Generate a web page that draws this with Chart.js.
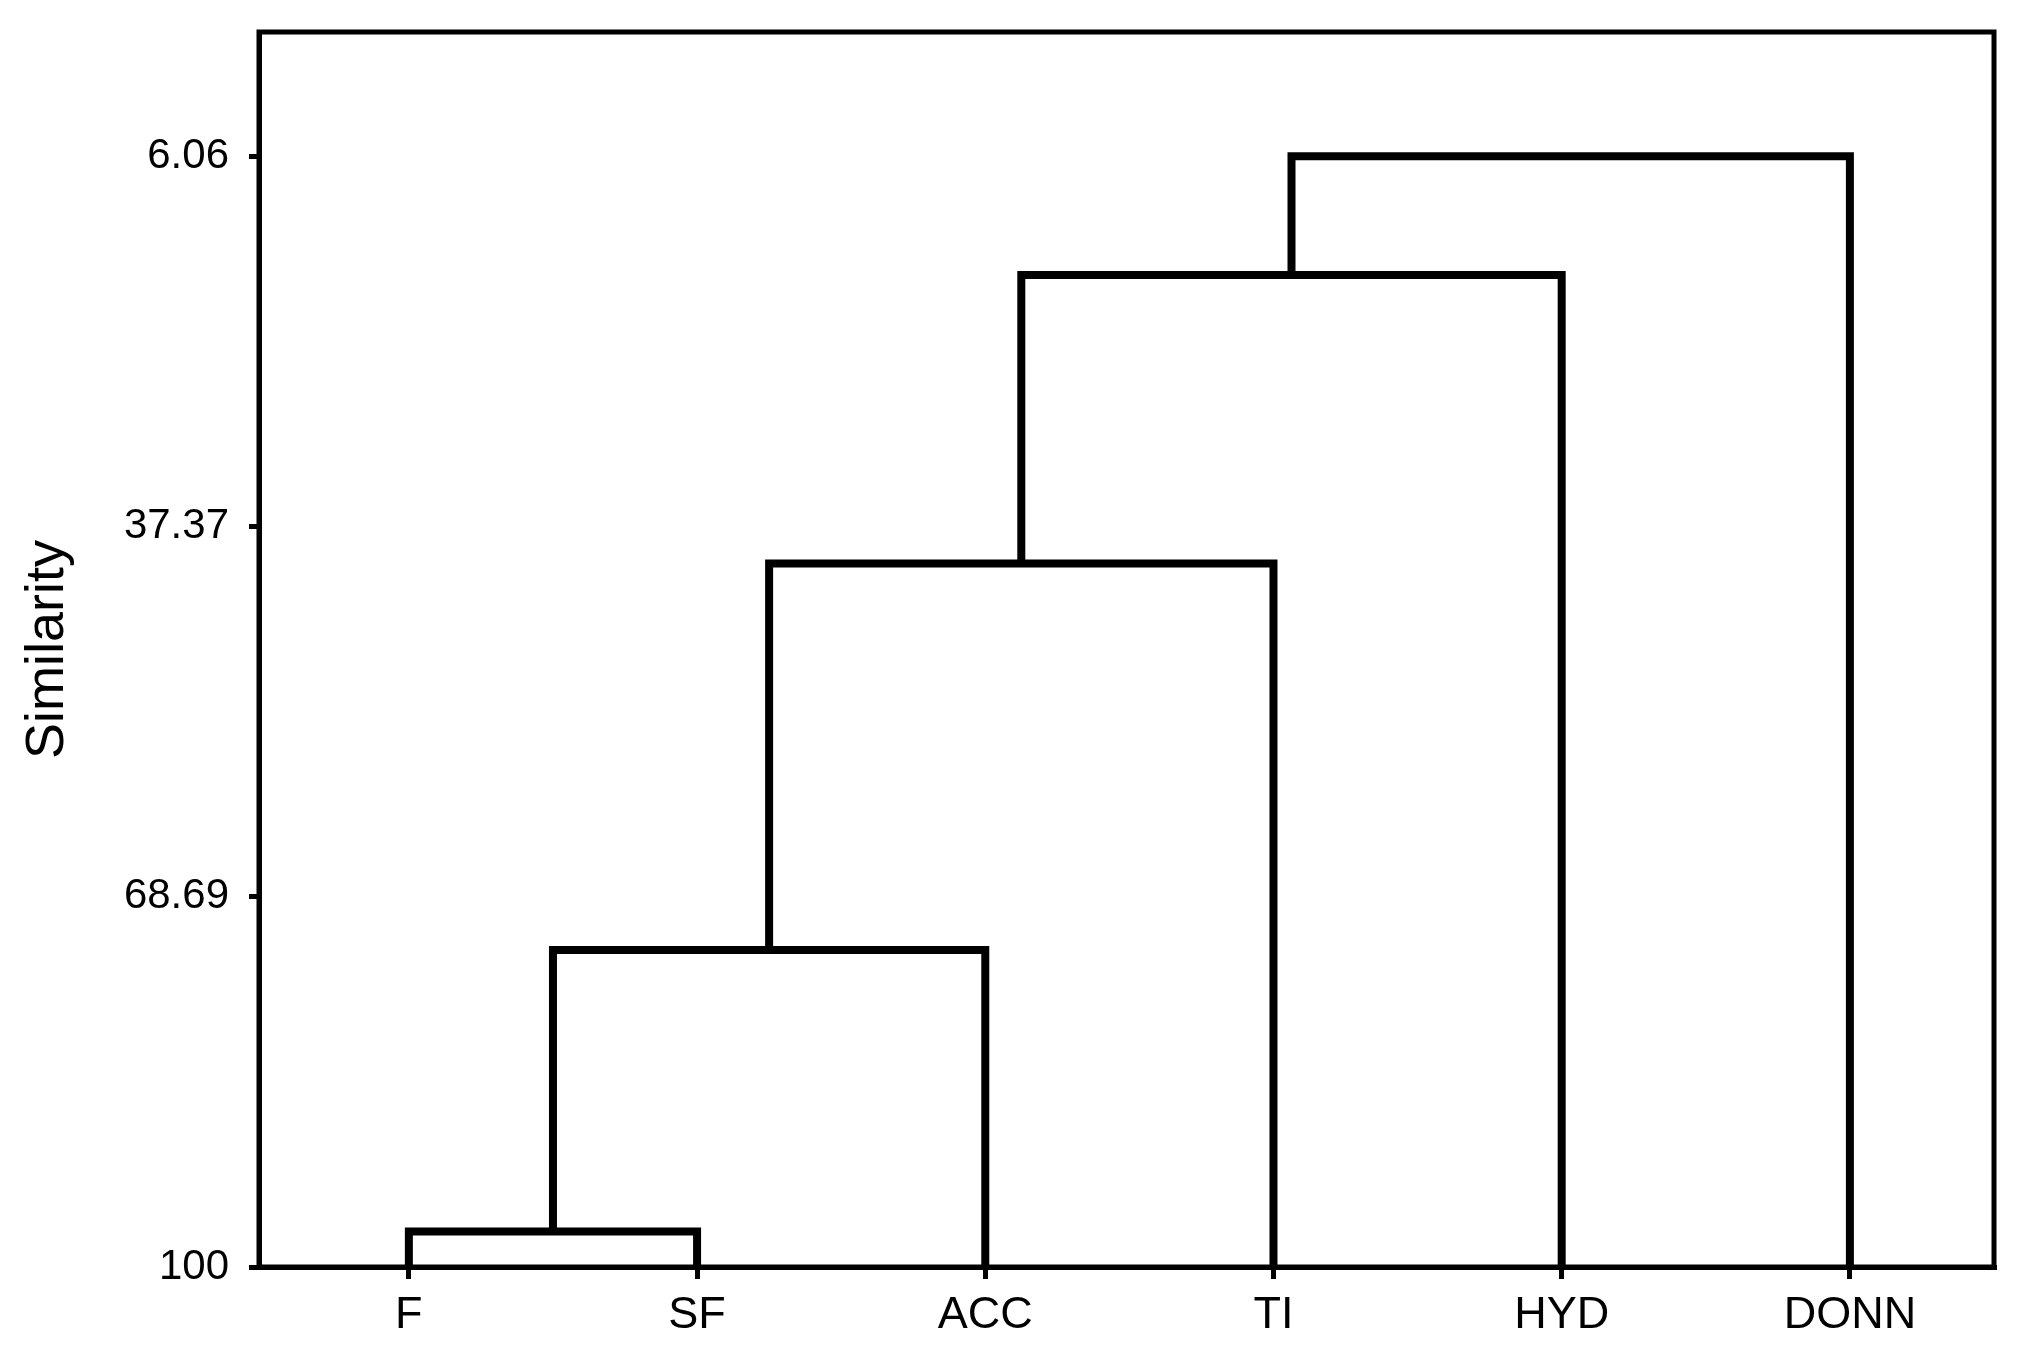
<!DOCTYPE html>
<html>
<head>
<meta charset="utf-8">
<script src="https://cdn.jsdelivr.net/npm/chart.js@4"></script>
<style>
  html, body { margin: 0; padding: 0; background: #fff; }
  canvas { display: block; }
</style>
</head>
<body>
<canvas id="dendro" width="2029" height="1367"></canvas>
<script>
// leaves in plot order, left to right
const leaves = ['F', 'SF', 'ACC', 'TI', 'HYD', 'DONN']
// similarity level at which each next leaf joins the growing cluster
const mergeHeights = [97.0, 73.2, 40.5, 16.1, 6.06]
const yTicks = [6.06, 37.37, 68.69, 100]
const leafLevel = 100

// build one U-shaped link per merge, from cluster centre to next leaf
const links = []
let centre = 0
let level = leafLevel
mergeHeights.forEach((h, i) => {
    const right = i + 1
    links.push([
        { x: centre, y: level },
        { x: centre, y: h },
        { x: right, y: h },
        { x: right, y: leafLevel },
    ])
    centre = (centre + right) / 2
    level = h
})

const frame = {
    id: 'frame',
    afterDraw(chart) {
        const { ctx, chartArea: a } = chart
        ctx.save()
        ctx.strokeStyle = '#000'
        ctx.lineWidth = 5
        ctx.strokeRect(a.left, a.top, a.right - a.left, a.bottom - a.top)
        ctx.restore()
    }
}

const font = 'Liberation Sans, Arial, sans-serif'

new Chart(document.getElementById('dendro'), {
    type: 'scatter',
    data: {
        datasets: links.map(pts => ({
            data: pts,
            showLine: true,
            borderColor: '#000',
            borderWidth: 8,
            pointRadius: 0,
            tension: 0,
            borderJoinStyle: 'miter',
            clip: false,
        }))
    },
    options: {
        responsive: false,
        animation: false,
        layout: { padding: { top: 32, right: 35, bottom: 0, left: 0 } },
        plugins: { legend: { display: false }, tooltip: { enabled: false } },
        scales: {
            x: {
                type: 'linear',
                min: -0.52,
                max: 5.5,
                afterBuildTicks: s => { s.ticks = leaves.map((_, i) => ({ value: i })) },
                afterFit: s => { s.height = 100 },
                ticks: {
                    callback: v => leaves[v],
                    color: '#000',
                    font: { family: font, size: 45 },
                    padding: 10,
                    maxRotation: 0,
                },
                grid: { drawOnChartArea: false, tickLength: 12, color: '#000', lineWidth: 5 },
                border: { color: '#000', width: 5 },
            },
            y: {
                type: 'linear',
                reverse: true,
                min: -4.45,
                max: 100,
                afterBuildTicks: s => { s.ticks = yTicks.map(v => ({ value: v })) },
                afterFit: s => { s.width = 259; s.paddingTop = 0; s.paddingBottom = 0 },
                ticks: {
                    callback: v => String(v),
                    color: '#000',
                    font: { family: font, size: 42 },
                    padding: 20,
                },
                grid: { drawOnChartArea: false, tickLength: 10, color: '#000', lineWidth: 5 },
                border: { color: '#000', width: 5 },
                title: {
                    display: true,
                    text: 'Similarity',
                    color: '#000',
                    font: { family: font, size: 54 },
                    padding: { top: 16, bottom: 0 },
                },
            },
        },
    },
    plugins: [frame],
})
</script>
</body>
</html>
